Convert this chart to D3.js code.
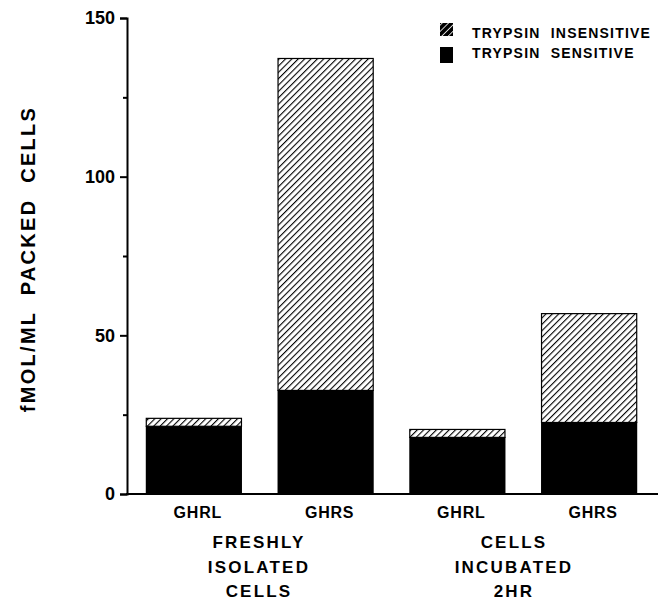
<!DOCTYPE html>
<html>
<head>
<meta charset="utf-8">
<script src="https://cdn.jsdelivr.net/npm/d3@7"></script>
<style>
  body { margin: 0; background: #fff; }
  svg { display: block; font-family: "Liberation Sans", Arial, sans-serif; font-weight: bold; }
</style>
</head>
<body>
<svg id="chart" width="669" height="601"></svg>
<script>
// values
var categories = ["GHRL", "GHRS", "GHRL", "GHRS"];
var groups = [["FRESHLY", "ISOLATED", "CELLS"], ["CELLS", "INCUBATED", "2HR"]];
var sensitive = [21.5, 32.8, 18.0, 22.7];
var insensitive = [2.5, 104.6, 2.5, 34.3];
var yTicks = [0, 50, 100, 150];
var yMinor = [25, 75, 125];
var legendLabels = ["TRYPSIN  INSENSITIVE", "TRYPSIN  SENSITIVE"];

var svg = d3.select("#chart");

// hatch pattern for the insensitive part
var defs = svg.append("defs");
var pat = defs.append("pattern")
  .attr("id", "hatch")
  .attr("patternUnits", "userSpaceOnUse")
  .attr("width", 4.5)
  .attr("height", 4.5)
  .attr("patternTransform", "rotate(45)");
pat.append("rect").attr("width", 4.5).attr("height", 4.5).attr("fill", "#fff");
pat.append("line")
  .attr("x1", 0).attr("y1", 0).attr("x2", 0).attr("y2", 4.5)
  .attr("stroke", "#000").attr("stroke-width", 2.2);

// legend swatch: mostly black with a few white stripes
var pat2 = defs.append("pattern")
  .attr("id", "hatchDark")
  .attr("patternUnits", "userSpaceOnUse")
  .attr("width", 4.5)
  .attr("height", 4.5)
  .attr("patternTransform", "rotate(45)");
pat2.append("rect").attr("width", 4.5).attr("height", 4.5).attr("fill", "#000");
pat2.append("line")
  .attr("x1", 0).attr("y1", 0).attr("x2", 0).attr("y2", 4.5)
  .attr("stroke", "#fff").attr("stroke-width", 1.6);

var x = d3.scaleBand()
  .domain(d3.range(categories.length))
  .range([128, 655])
  .paddingInner(0.27)
  .paddingOuter(0.135);

var y = d3.scaleLinear()
  .domain([0, 150])
  .range([494, 18]);

// group captions sit under each pair (right one a little left of centre)
var xGroup = d3.scalePoint().domain(d3.range(groups.length)).range([259, 514]);

// bars
var bars = svg.append("g");
bars.selectAll("rect.sens")
  .data(sensitive)
  .enter()
  .append("rect")
    .attr("class", "sens")
    .attr("x", function(d, i) { return x(i); })
    .attr("width", x.bandwidth())
    .attr("y", function(d) { return y(d); })
    .attr("height", function(d) { return y(0) - y(d); })
    .attr("fill", "#000");

bars.selectAll("rect.insens")
  .data(insensitive)
  .enter()
  .append("rect")
    .attr("class", "insens")
    .attr("x", function(d, i) { return x(i) + 0.5; })
    .attr("width", x.bandwidth() - 1)
    .attr("y", function(d, i) { return y(sensitive[i] + d) + 0.5; })
    .attr("height", function(d, i) { return y(sensitive[i]) - y(sensitive[i] + d); })
    .attr("fill", "url(#hatch)")
    .attr("stroke", "#000")
    .attr("stroke-width", 1.2);

// y axis
var yAxis = svg.append("g")
  .attr("transform", "translate(127,0)")
  .call(d3.axisLeft(y).tickValues(yTicks).tickSize(7).tickPadding(5));
yAxis.select(".domain").attr("stroke-width", 2);
yAxis.selectAll(".tick line").attr("stroke-width", 2);
yAxis.selectAll("text")
  .attr("fill", "#000")
  .style("font-size", "18px")
  .style("font-weight", "bold")
  .style("font-family", "Liberation Sans, Arial, sans-serif");

svg.append("g")
  .attr("transform", "translate(127,0)")
  .call(d3.axisLeft(y).tickValues(yMinor).tickSize(4).tickFormat(""))
  .call(function(g) { g.select(".domain").remove(); })
  .selectAll("line").attr("stroke-width", 2);

// x baseline
svg.append("line")
  .attr("x1", 126).attr("x2", 658)
  .attr("y1", y(0)).attr("y2", y(0))
  .attr("stroke", "#000").attr("stroke-width", 2);

// category labels
svg.selectAll("text.cat")
  .data(categories)
  .enter()
  .append("text")
    .attr("class", "cat")
    .attr("x", function(d, i) { return x(i) + x.bandwidth() / 2 + 4; })
    .attr("y", 518)
    .attr("text-anchor", "middle")
    .style("font-size", "16px")
    .style("letter-spacing", "0.8px")
    .text(function(d) { return d; });

// group labels
groups.forEach(function(lines, gi) {
  svg.selectAll(null)
    .data(lines)
    .enter()
    .append("text")
      .attr("x", xGroup(gi))
      .attr("y", function(d, li) { return 548 + li * 24.5; })
      .attr("text-anchor", "middle")
      .style("font-size", "17px")
      .style("letter-spacing", "2.2px")
      .text(function(d) { return d; });
});

// y title
svg.append("text")
  .attr("transform", "translate(35,259) rotate(-90)")
  .attr("text-anchor", "middle")
  .style("font-size", "20px")
  .style("letter-spacing", "2.3px")
  .style("white-space", "pre")
  .text("fMOL/ML  PACKED  CELLS");

// legend
var legend = svg.append("g");
legend.append("rect")
  .attr("x", 440).attr("y", 23).attr("width", 13).attr("height", 13)
  .attr("fill", "url(#hatchDark)");
legend.append("rect")
  .attr("x", 440).attr("y", 47).attr("width", 13).attr("height", 16)
  .attr("fill", "#000");
legend.selectAll("text")
  .data(legendLabels)
  .enter()
  .append("text")
    .attr("x", 472)
    .attr("y", function(d, i) { return 38 + i * 20; })
    .style("font-size", "14px")
    .style("letter-spacing", "1.2px")
    .style("white-space", "pre")
    .text(function(d) { return d; });
</script>
</body>
</html>
